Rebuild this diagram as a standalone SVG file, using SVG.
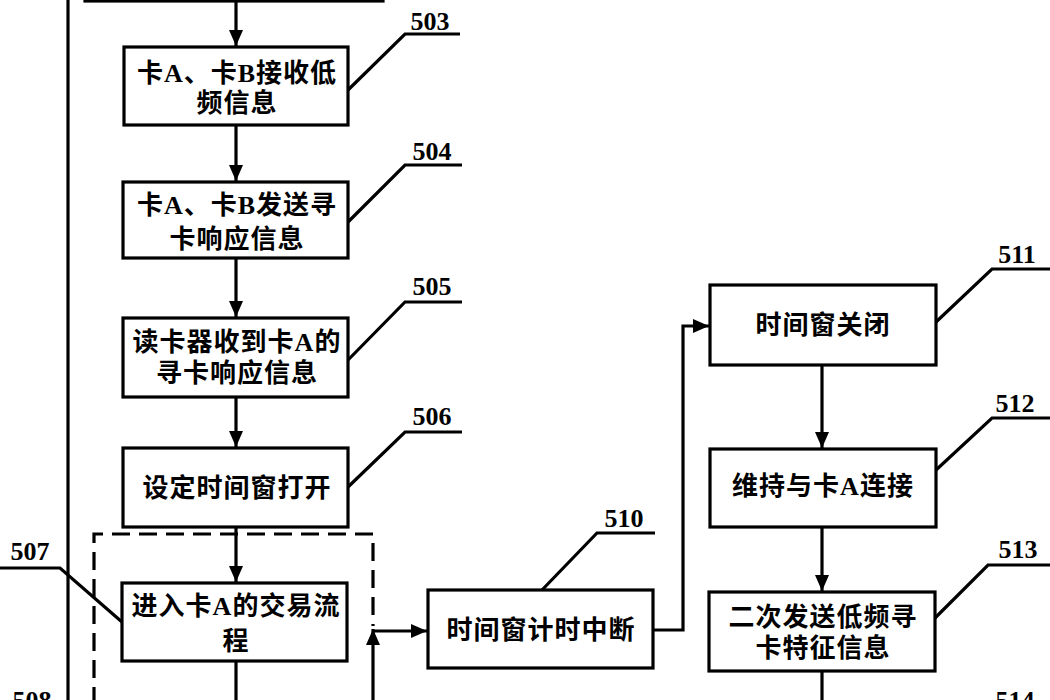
<svg xmlns="http://www.w3.org/2000/svg" width="1050" height="700" viewBox="0 0 1050 700">
<style>
.box{fill:#fff;stroke:#000;stroke-width:3.2}
.ln{fill:none;stroke:#000;stroke-width:3.2}
.dash{fill:none;stroke:#000;stroke-width:3.2;stroke-dasharray:18 9}
.t{font-family:"Liberation Serif","Noto Sans CJK SC",serif;font-weight:bold;font-size:26px;letter-spacing:1px;text-anchor:middle;fill:#000}
.lab{font-family:"Liberation Serif",serif;font-weight:bold;font-size:26px;text-anchor:middle;fill:#000}
</style>
<defs>
<marker id="ah" markerWidth="16" markerHeight="14" refX="16" refY="7" orient="auto" markerUnits="userSpaceOnUse">
<path d="M0,0 L16,7 L0,14 Z" fill="#000"/>
</marker>
</defs>
<rect width="1050" height="700" fill="#fff"/>
<g id="connectors">
<line class="ln" x1="68" y1="0" x2="68" y2="700"/>
<path class="ln" d="M236,1 V46" marker-end="url(#ah)"/>
<path class="ln" d="M236,125 V181" marker-end="url(#ah)"/>
<path class="ln" d="M236,258 V317" marker-end="url(#ah)"/>
<path class="ln" d="M236,397 V447" marker-end="url(#ah)"/>
<path class="ln" d="M236,527 V582" marker-end="url(#ah)"/>
<path class="ln" d="M236,661 V700"/>
<path class="dash" d="M94,705 V534 H373 V626"/>
<path class="ln" d="M373,700 V629" marker-end="url(#ah)"/>
<path class="ln" d="M372,631 H427" marker-end="url(#ah)"/>
<path class="ln" d="M653,630 H683 V326 H709" marker-end="url(#ah)"/>
<path class="ln" d="M822,365 V448" marker-end="url(#ah)"/>
<path class="ln" d="M822,527 V591" marker-end="url(#ah)"/>
<path class="ln" d="M822,671 V700"/>
</g>
<g id="n502"><rect class="box" x="85" y="-80" width="298" height="81"/></g>
<g id="n503">
<rect class="box" x="124" y="47" width="224" height="78"/>
<text class="t" x="237" y="82">卡A、卡B接收低</text>
<text class="t" x="237" y="112">频信息</text>
<path class="ln" d="M348,90 L405,34 H460"/>
<text class="lab" x="430" y="30">503</text>
</g>
<g id="n504">
<rect class="box" x="123" y="182" width="225" height="76"/>
<text class="t" x="237" y="214">卡A、卡B发送寻</text>
<text class="t" x="237" y="248">卡响应信息</text>
<path class="ln" d="M348,222 L405,165 H462"/>
<text class="lab" x="432" y="160">504</text>
</g>
<g id="n505">
<rect class="box" x="123" y="318" width="225" height="79"/>
<text class="t" x="237" y="351">读卡器收到卡A的</text>
<text class="t" x="237" y="382">寻卡响应信息</text>
<path class="ln" d="M348,360 L405,302 H462"/>
<text class="lab" x="432" y="295">505</text>
</g>
<g id="n506">
<rect class="box" x="123" y="448" width="225" height="79"/>
<text class="t" x="237" y="497">设定时间窗打开</text>
<path class="ln" d="M348,487 L405,432 H462"/>
<text class="lab" x="432" y="425">506</text>
</g>
<g id="n507">
<rect class="box" x="122" y="583" width="225" height="78"/>
<text class="t" x="236" y="615">进入卡A的交易流</text>
<text class="t" x="236" y="650">程</text>
<path class="ln" d="M122,622 L60,568 H0"/>
<text class="lab" x="30" y="560">507</text>
</g>
<g id="n508"><text class="lab" x="32" y="709">508</text></g>
<g id="n510">
<rect class="box" x="428" y="590" width="225" height="78"/>
<text class="t" x="541" y="639">时间窗计时中断</text>
<path class="ln" d="M542,590 L597,533 H655"/>
<text class="lab" x="624" y="527">510</text>
</g>
<g id="n511">
<rect class="box" x="710" y="285" width="226" height="80"/>
<text class="t" x="823" y="334">时间窗关闭</text>
<path class="ln" d="M936,322 L992,269 H1050"/>
<text class="lab" x="1017" y="263">511</text>
</g>
<g id="n512">
<rect class="box" x="710" y="449" width="226" height="78"/>
<text class="t" x="823" y="495">维持与卡A连接</text>
<path class="ln" d="M936,470 L992,418 H1050"/>
<text class="lab" x="1015" y="412">512</text>
</g>
<g id="n513">
<rect class="box" x="709" y="592" width="226" height="79"/>
<text class="t" x="823" y="626">二次发送低频寻</text>
<text class="t" x="823" y="657">卡特征信息</text>
<path class="ln" d="M935,618 L988,565 H1050"/>
<text class="lab" x="1018" y="558">513</text>
</g>
<g id="n514"><text class="lab" x="1015" y="709">514</text></g>
</svg>
